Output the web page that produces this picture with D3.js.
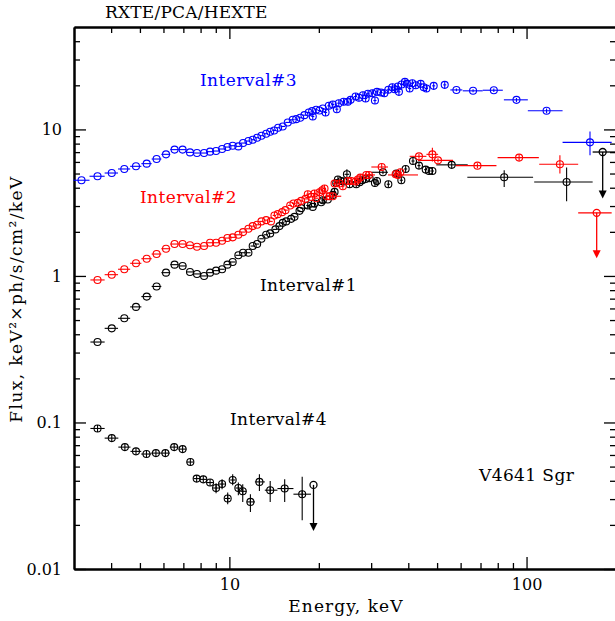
<!DOCTYPE html>
<html>
<head>
<meta charset="utf-8">
<script src="https://cdn.jsdelivr.net/npm/d3@7"></script>
<style>
  html, body { margin: 0; padding: 0; background: #fff; }
  svg { display: block; font-family: "DejaVu Serif", serif; }
</style>
</head>
<body>
<div id="chart"></div>
<script>
/* Broad-band spectra of V4641 Sgr, four intervals, log-log */

// --- PCA-like points [E keV, flux]; bins taken between neighbours ---
const int3Pca = [
  [3.18,4.50],[3.60,4.79],[4.02,5.04],[4.43,5.37],[4.85,5.60],[5.27,5.84],[5.69,6.28],
  [6.12,6.76],[6.54,7.28],[6.96,7.28],[7.37,6.97],[7.78,6.90],[8.22,6.90],[8.61,7.05],
  [9.02,7.12],[9.45,7.35],[9.85,7.58],[10.26,7.74],[10.72,7.66],[11.12,8.07],[11.59,8.33],
  [11.98,8.51],[12.40,8.78],[12.82,9.06],[13.30,9.35],[13.72,9.65],[14.15,9.84],[14.59,10.27],
  [15.12,10.48],[15.72,11.16],[16.34,11.64],[16.78,11.75],[17.31,12.01],[17.89,12.51],
  [18.50,13.05],[18.99,13.32],[19.59,13.61],[20.11,13.47],[20.63,13.89]
];
const int2Pca = [
  [3.60,0.939],[4.02,1.020],[4.43,1.111],[4.85,1.220],[5.27,1.311],[5.69,1.411],[6.12,1.534],
  [6.54,1.651],[6.96,1.651],[7.37,1.618],[7.78,1.582],[8.22,1.600],[8.61,1.685],[9.02,1.685],
  [9.45,1.739],[9.85,1.814],[10.26,1.834],[10.72,1.910],[11.12,1.992],[11.59,2.098],
  [11.98,2.188],[12.40,2.234],[12.82,2.356],[13.30,2.404],[13.80,2.356],[14.18,2.588],
  [14.55,2.641],[15.05,2.725],[15.44,2.812],[16.02,3.027],[16.43,3.124],[16.99,3.153],
  [17.44,3.253],[18.04,3.357],[18.86,3.464],[19.59,3.393]
];
const int1Pca = [
  [3.60,0.354],[4.02,0.439],[4.43,0.514],[4.85,0.615],[5.27,0.723],[5.69,0.848],[6.12,1.053],
  [6.54,1.194],[6.96,1.170],[7.37,1.065],[7.78,1.032],[8.22,1.000],[8.61,1.053],[9.02,1.087],
  [9.45,1.111],[9.85,1.194],[10.26,1.245],[10.72,1.383],[11.12,1.440],[11.59,1.440],
  [11.98,1.600],[12.40,1.651],[12.82,1.794],[13.30,1.910],[13.72,1.952],[14.29,2.078],
  [14.74,2.188],[15.12,2.304],[15.53,2.356],[16.14,2.453],[16.56,2.531],[17.22,2.781],
  [17.44,2.901],[19.08,2.960],[20.37,3.186],[21.44,3.325]
];
// Interval#4: [E, flux, flux low, flux high]
const int4Pts = [
  [3.60,0.0910],[4.02,0.0782],[4.45,0.0679],[4.85,0.0635],[5.26,0.0609],[5.66,0.0618],
  [6.09,0.0618],[6.52,0.0679],[6.96,0.0658],[7.39,0.0537],[7.76,0.0414],[8.17,0.0409],
  [8.61,0.0389],[9.02,0.0357,0.0329,0.0385],[9.45,0.0380,0.0350,0.0409],
  [9.87,0.0303,0.0277,0.0333],[10.26,0.0405,0.0373,0.0443],[10.72,0.0357,0.0319,0.0389],
  [11.09,0.0339,0.0287,0.0379],[11.77,0.0287,0.0245,0.0324],[12.62,0.0393,0.0341,0.0443],
  [13.72,0.0345,0.0287,0.0399],[15.35,0.0354,0.0287,0.0409],[17.58,0.0324,0.0215,0.0427]
];

// --- HEXTE-like points drawn as crossed circles [E, flux] ---
const int3Hx = [
  [19.08,12.26],[21.07,13.05],[21.61,14.49],[22.29,14.79],[22.99,13.74],[23.35,15.10],
  [24.23,15.43],[25.05,15.43],[25.58,15.92],[26.59,16.77],[27.29,16.43],[28.15,17.12],
  [28.74,16.25],[29.26,17.52],[30.27,17.66],[30.89,15.75],[31.38,18.05],[32.36,17.85],
  [33.23,17.66],[34.27,18.63],[35.35,19.40],[35.98,18.80],[36.92,19.61],[37.20,18.05],
  [37.99,20.24],[38.97,21.11],[39.59,20.46],[40.43,19.01],[41.28,20.65],[42.37,20.01],
  [44.03,20.46],[45.09,19.40],[46.03,19.01],[48.70,19.83],[53.05,20.14]
];
const int2Hx = [
  [18.36,3.613],[19.34,3.653],[20.11,3.728],[20.53,3.846],[20.90,3.951],[21.28,3.502],
  [21.73,3.502],[22.59,4.272],[23.48,4.272],[24.09,4.095],[25.05,4.449],[25.72,4.449],
  [26.59,4.407],[27.07,4.548],[27.57,4.692],[29.48,4.888],[36.27,4.942],[37.62,5.099]
];
const int1Hx = [
  [18.36,3.027],[19.34,3.124],[20.63,3.289],[22.29,3.574],[22.59,3.746],[22.89,4.313],
  [23.19,4.548],[23.79,4.449],[24.23,4.407],[25.38,4.226],[26.73,4.226],[27.44,4.361],
  [28.02,4.500],[28.74,4.592],[29.64,4.642],[30.89,4.313],[31.38,4.449],[34.27,4.226],
  [36.47,4.995],[37.90,4.500],[39.19,5.370],[41.48,6.086],[43.45,5.663],[45.78,5.318],
  [46.96,5.202],[48.21,5.202]
];

// --- points with full error bars [E, flux, E low, E high, flux low, flux high] ---
const int3Bars = [
  [58.08,18.6,55.4,60.8,18.2,19.0],[66.07,18.34,61.0,71.2,17.9,18.8],
  [77.6,18.51,71.2,83.2,18.0,19.0],[92.5,15.92,83.9,101.0,15.4,16.4],
  [116.8,13.40,101.0,132.2,12.9,13.9],[163.5,8.16,132.2,193.4,6.66,9.69]
];
const int2Bars = [
  [22.3,3.50,21.18,23.79,3.40,3.60],[28.89,4.89,27.1,30.9,4.75,5.03],
  [32.55,5.54,30.04,34.17,5.30,5.80],[36.92,4.89,34.17,43.12,4.75,5.03],
  [43.45,6.55,40.43,46.03,6.30,6.80],[48.21,6.76,46.03,50.4,6.03,7.51],
  [50.35,6.15,43.1,56.6,5.95,6.35],[68.35,5.66,57.8,79.2,5.45,5.88],
  [94.4,6.42,79.9,110.0,6.10,6.75],[129.5,5.78,110.3,149.2,5.00,6.66]
];
const int1Bars = [
  [24.86,4.94,24.4,25.3,4.55,5.35],[32.87,5.10,30.04,34.17,4.95,5.25],
  [56.0,5.73,49.7,63.4,5.45,6.05],[84.1,4.72,63.2,105.2,4.05,5.26],
  [136.4,4.38,106.1,166.9,3.24,5.49]
];

// --- upper limits [E, flux, E low, E high, arrow end] ---
const int2Ul = [[172.2,2.695,149.2,193.4,1.319]];
const int1Ul = [[180.4,7.01,166.9,198.5,3.38]];
const int4Ul = [[19.19,0.0375,19.19,19.19,0.0182]];

// --- ticks ---
const xMajor = [10, 100];
const xMinor = [4,5,6,7,8,9,20,30,40,50,60,70,80,90];
const yMajor = [0.01, 0.1, 1, 10];
const yMinor = [0.02,0.03,0.04,0.05,0.06,0.07,0.08,0.09,0.2,0.3,0.4,0.5,0.6,0.7,0.8,0.9,
                2,3,4,5,6,7,8,9,20,30,40];

const width = 615, height = 621;
const plot = { left: 74, right: 616, top: 27, bottom: 569 };
const R = 3.5;

const svg = d3.select("#chart").append("svg")
  .attr("width", width).attr("height", height);

const x = d3.scaleLog().domain([3, 200]).range([plot.left, plot.right]);
const y = d3.scaleLog().domain([0.01, 50]).range([plot.bottom, plot.top]);

// --- frame and ticks ---
function styleAxis(g, labels) {
  g.select(".domain").attr("stroke", "#000").attr("stroke-width", 2);
  g.selectAll(".tick line").attr("stroke", "#000").attr("stroke-width", 1.3);
  g.selectAll(".tick text").attr("fill", "#000").attr("font-size", 16)
    .attr("font-family", "DejaVu Serif, serif");
  if (!labels) g.selectAll(".tick text").remove();
}

function axisPair(axisFn, scale, pos, transform, labels) {
  svg.append("g").attr("transform", transform)
    .call(axisFn(scale).tickValues(pos === "x" ? xMinor : yMinor).tickSize(-6).tickSizeOuter(0).tickFormat(""))
    .call(g => styleAxis(g, false));
  svg.append("g").attr("transform", transform)
    .call(axisFn(scale).tickValues(pos === "x" ? xMajor : yMajor).tickSize(-12).tickSizeOuter(0)
      .tickPadding(pos === "x" ? 10 : 12).tickFormat(d => String(d)))
    .call(g => styleAxis(g, labels));
}

axisPair(d3.axisBottom, x, "x", `translate(0,${plot.bottom})`, true);
axisPair(d3.axisTop, x, "x", `translate(0,${plot.top})`, false);
axisPair(d3.axisLeft, y, "y", `translate(${plot.left},0)`, true);
axisPair(d3.axisRight, y, "y", `translate(${plot.right},0)`, false);

// --- data drawing helpers ---
function pcaRows(pts) {
  // channel edges halfway (in log) between neighbouring energies
  const es = pts.map(d => d[0]);
  return pts.map((d, i) => {
    const lo = i > 0 ? Math.sqrt(es[i - 1] * d[0]) : d[0] * Math.sqrt(d[0] / es[1]);
    const hi = i < es.length - 1 ? Math.sqrt(es[i + 1] * d[0]) : d[0] * Math.sqrt(d[0] / es[i - 1]);
    return [d[0], d[1], lo, hi, d[2] ?? null, d[3] ?? null];
  });
}

function drawRows(rows, color, cross) {
  const g = svg.append("g").attr("stroke", color).attr("fill", "none").attr("stroke-width", 1.1);
  g.selectAll("line.h").data(rows).join("line").attr("class", "h")
    .attr("x1", d => x(d[2])).attr("x2", d => x(d[3]))
    .attr("y1", d => y(d[1])).attr("y2", d => y(d[1]));
  g.selectAll("line.v").data(rows.filter(d => d[4] != null)).join("line").attr("class", "v")
    .attr("x1", d => x(d[0])).attr("x2", d => x(d[0]))
    .attr("y1", d => y(d[4])).attr("y2", d => y(d[5]));
  if (cross) {
    g.selectAll("line.c").data(rows).join("line").attr("class", "c")
      .attr("x1", d => x(d[0])).attr("x2", d => x(d[0]))
      .attr("y1", d => y(d[1]) - R).attr("y2", d => y(d[1]) + R);
  }
  g.selectAll("circle").data(rows).join("circle")
    .attr("cx", d => x(d[0])).attr("cy", d => y(d[1])).attr("r", R);
}

function drawCrossed(pts, color) {
  const rows = pts.map(d => [d[0], d[1], d[0] / 1.012, d[0] * 1.012, null, null]);
  drawRows(rows, color, true);
}

function drawUl(rows, color) {
  const g = svg.append("g").attr("stroke", color).attr("fill", "none").attr("stroke-width", 1.3);
  g.selectAll("line.h").data(rows).join("line").attr("class", "h")
    .attr("x1", d => x(d[2])).attr("x2", d => x(d[3]))
    .attr("y1", d => y(d[1])).attr("y2", d => y(d[1]));
  g.selectAll("line.v").data(rows).join("line").attr("class", "v")
    .attr("x1", d => x(d[0])).attr("x2", d => x(d[0]))
    .attr("y1", d => y(d[1])).attr("y2", d => y(d[4]) - 4);
  g.selectAll("circle").data(rows).join("circle")
    .attr("cx", d => x(d[0])).attr("cy", d => y(d[1])).attr("r", R);
  g.selectAll("path").data(rows).join("path")
    .attr("fill", color).attr("stroke", "none")
    .attr("d", d => {
      const cx = x(d[0]), cy = y(d[4]);
      return `M${cx - 4},${cy - 8}L${cx + 4},${cy - 8}L${cx},${cy}Z`;
    });
}

const BLUE = "#0000ff", RED = "#ff0000", BLACK = "#000000";

drawRows(pcaRows(int3Pca), BLUE, false);
drawCrossed(int3Hx, BLUE);
drawRows(int3Bars, BLUE, false);

drawRows(pcaRows(int1Pca), BLACK, false);
drawCrossed(int1Hx, BLACK);
drawRows(int1Bars, BLACK, false);
drawUl(int1Ul, BLACK);

drawRows(pcaRows(int2Pca), RED, false);
drawCrossed(int2Hx, RED);
drawRows(int2Bars, RED, false);
drawUl(int2Ul, RED);

drawRows(pcaRows(int4Pts), BLACK, true);
drawUl(int4Ul, BLACK);

// --- text ---
const txt = (s, px, py, color, anchor, spacing) => svg.append("text")
  .attr("x", px).attr("y", py).attr("fill", color || "#000")
  .attr("font-size", 17).attr("letter-spacing", spacing || 0.4)
  .attr("text-anchor", anchor || "start").text(s);

txt("RXTE/PCA/HEXTE", 105, 18, "#000", "start", 0.2);
txt("Interval#3", 200, 86, BLUE);
txt("Interval#2", 140, 203, RED);
txt("Interval#1", 260, 291);
txt("Interval#4", 230, 425);
txt("V4641 Sgr", 479, 481);
txt("Energy, keV", 346, 612, "#000", "middle", 1.1);

svg.append("text")
  .attr("transform", "translate(22,299) rotate(-90)")
  .attr("text-anchor", "middle").attr("font-size", 17).attr("letter-spacing", 1.4)
  .attr("fill", "#000")
  .text("Flux, keV²×ph/s/cm²/keV");
</script>
</body>
</html>
